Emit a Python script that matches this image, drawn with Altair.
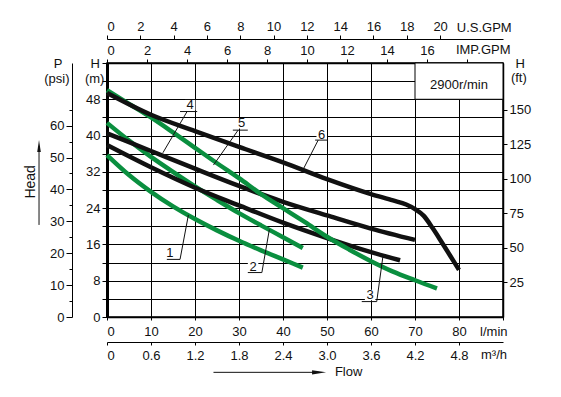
import altair as alt
import pandas as pd

GREEN = "#0a8f3f"
BLACK = "#111111"
FONT = "Liberation Sans"

FLOW_MAX = 90.0   # l/min
HEAD_MAX = 56.0   # m

# ---- pump curves: flow (l/min) vs head (m) ----
c1_flow = [0, 5, 10, 15, 20, 25, 30, 35, 40, 44.5]
c1_head = [35.7, 31.3, 27.6, 24.4, 21.6, 19.1, 16.8, 14.7, 12.7, 10.9]
c2_flow = [0, 5, 10, 15, 20, 25, 30, 35, 40, 44.5]
c2_head = [42.8, 38.9, 35.3, 32.0, 28.8, 25.8, 22.9, 20.2, 17.6, 15.2]
c3_flow = [0, 10, 20, 30, 40, 50, 60, 66.6]
c3_head = [37.9, 33.0, 28.5, 24.6, 20.8, 17.4, 14.3, 12.5]
c4_flow = [0, 10, 20, 30, 40, 50, 60, 70]
c4_head = [40.5, 36.6, 32.7, 28.9, 25.4, 22.4, 19.5, 17.0]
c5_flow = [0, 5, 10, 15, 20, 25, 30, 35, 40, 45, 50, 55, 60, 65, 70, 75]
c5_head = [50.0, 47.0, 44.0, 40.7, 37.3, 33.9, 30.6, 27.1, 24.0, 20.9, 17.7, 14.9, 12.3, 10.0, 8.1, 6.3]
c6_flow = [0, 10, 20, 30, 40, 50, 60, 65, 68, 70, 72, 74, 76, 78, 80]
c6_head = [49.4, 44.6, 41.0, 37.5, 34.1, 30.4, 27.1, 25.7, 24.8, 23.8, 22.3, 19.6, 16.6, 13.5, 10.4]

curve_ids = ["1", "2", "3", "4", "5", "6"]
curve_colors = [GREEN, GREEN, BLACK, BLACK, GREEN, BLACK]

# ---- curve number labels (data units) ----
lab_x = [14.3, 33.2, 59.8, 18.9, 30.6, 48.8]
lab_y = [14.1, 11.1, 4.85, 46.7, 42.7, 40.1]
und_x1 = [13.6, 32.0, 57.9, 16.6, 28.6, 47.3]
und_x2 = [16.6, 35.2, 61.3, 20.5, 32.0, 50.2]
und_y = [12.7, 9.8, 3.4, 45.3, 41.2, 39.0]
lead_x1 = [16.6, 35.2, 61.3, 18.2, 29.8, 48.0]
lead_x2 = [18.5, 36.9, 62.7, 12.7, 24.2, 44.3]
lead_y2 = [22.5, 19.3, 13.3, 36.2, 33.5, 32.0]

# ---- speed box ----
speed_text = "2900r/min"
box_x = [70, 90]
box_y = [48, 56]

# ---- axis tick values ----
lmin_ticks = list(range(0, 91, 10))
m_ticks = list(range(0, 57, 4))
m3h_ticks = [0, 0.6, 1.2, 1.8, 2.4, 3.0, 3.6, 4.2, 4.8]
usgpm_ticks = list(range(0, 21, 2))
impgpm_ticks = list(range(0, 19, 2))
psi_ticks = [0, 10, 20, 30, 40, 50, 60]
psi_minor = [5, 15, 25, 35, 45, 55, 65]
ft_ticks = [25, 50, 75, 100, 125, 150]

# ---- annotation texts (data units of the main scales) ----
center_texts = ["P", "(psi)", "H", "(m)", "H", "(ft)"]
center_x = [-11.1, -11.4, -2.7, -2.8, 93.9, 93.6]
center_y = [55.8, 52.5, 55.8, 52.5, 55.8, 52.7]
left_texts = ["U.S.GPM", "IMP.GPM", "l/min", "m\u00b3/h", "Flow"]
left_x = [79.5, 79.3, 84.8, 85.0, 51.8]
left_y = [63.7, 58.9, -3.3, -8.4, -12.2]
head_text = "Head"
head_x, head_y = -17.3, 29.8
head_arrow_x, head_arrow_y = [-15.45, -15.45], [20.3, 37.7]
flow_arrow_x, flow_arrow_y = [24.2, 48.2], [-12.2, -12.2]

# unit conversions for the secondary axes
M3H_MAX = FLOW_MAX * 0.06
USGPM_MAX = FLOW_MAX / 3.785411784
IMPGPM_MAX = FLOW_MAX / 4.54609
PSI_MAX = HEAD_MAX / 0.70307
FT_MAX = HEAD_MAX / 0.3048

# ---------------- build data ----------------
rows = []
for cid, fl, hd in zip(curve_ids,
                       [c1_flow, c2_flow, c3_flow, c4_flow, c5_flow, c6_flow],
                       [c1_head, c2_head, c3_head, c4_head, c5_head, c6_head]):
    for f, h in zip(fl, hd):
        rows.append({"curve": cid, "x": f, "y": h})
curve_df = pd.DataFrame(rows)

lab_df = pd.DataFrame({"t": curve_ids, "x": lab_x, "y": lab_y})
seg_df = pd.DataFrame({
    "x": und_x1 + lead_x1,
    "x2": und_x2 + lead_x2,
    "y": und_y + und_y,
    "y2": und_y + lead_y2,
})
box_df = pd.DataFrame({"x": [box_x[0]], "x2": [box_x[1]], "y": [box_y[0]], "y2": [box_y[1]],
                       "t": [speed_text], "xc": [sum(box_x) / 2], "yc": [sum(box_y) / 2 - 0.9]})
ctext_df = pd.DataFrame({"t": center_texts, "x": center_x, "y": center_y})
ltext_df = pd.DataFrame({"t": left_texts, "x": left_x, "y": left_y})
head_df = pd.DataFrame({"t": [head_text], "x": [head_x], "y": [head_y]})
arrow_df = pd.DataFrame({
    "x": [head_arrow_x[0], flow_arrow_x[0]],
    "x2": [head_arrow_x[1], flow_arrow_x[1]],
    "y": [head_arrow_y[0], flow_arrow_y[0]],
    "y2": [head_arrow_y[1], flow_arrow_y[1]],
})
headtip_df = pd.DataFrame({"x": [head_arrow_x[1]], "y": [head_arrow_y[1]]})
flowtip_df = pd.DataFrame({"x": [flow_arrow_x[1]], "y": [flow_arrow_y[1]]})

# ---------------- main scales / axes ----------------
xs = alt.Scale(domain=[0, FLOW_MAX], nice=False, zero=False)
ys = alt.Scale(domain=[0, HEAD_MAX], nice=False, zero=False)

x_axis = alt.Axis(values=lmin_ticks, grid=True, gridColor="black", gridWidth=1, gridOpacity=1,
                  domainColor="black", domainWidth=1.5, tickColor="black", tickSize=3,
                  labelExpr="datum.value <= 80 ? datum.label : ''", labelPadding=5, title=None)
y_axis = alt.Axis(values=m_ticks, grid=True, gridColor="black", gridWidth=1, gridOpacity=1,
                  domainColor="black", domainWidth=3, tickColor="black", tickSize=5,
                  labelExpr="(datum.value % 8 == 0 && datum.value <= 48) ? datum.label : ''",
                  labelPadding=2, title=None)

X = alt.X("x:Q", scale=xs, axis=x_axis)
Y = alt.Y("y:Q", scale=ys, axis=y_axis)

curves = alt.Chart(curve_df).mark_line(strokeWidth=4.5, interpolate="monotone").encode(
    x=X, y=Y,
    color=alt.Color("curve:N", scale=alt.Scale(domain=curve_ids, range=curve_colors), legend=None),
    detail="curve:N",
)

box = alt.Chart(box_df).mark_rect(fill="white", stroke="black", strokeWidth=1).encode(
    x=X, x2="x2:Q", y=Y, y2="y2:Q")
box_txt = alt.Chart(box_df).mark_text(font=FONT, fontSize=13, color=BLACK).encode(
    x=alt.X("xc:Q", scale=xs, axis=x_axis), y=alt.Y("yc:Q", scale=ys, axis=y_axis), text="t:N")

lab_bg = alt.Chart(lab_df).mark_square(color="white", opacity=1, size=110).encode(x=X, y=Y)
segs = alt.Chart(seg_df).mark_rule(color=BLACK, strokeWidth=1).encode(x=X, x2="x2:Q", y=Y, y2="y2:Q")
lab_txt = alt.Chart(lab_df).mark_text(font=FONT, fontSize=13, color=BLACK, baseline="middle").encode(
    x=X, y=Y, text="t:N")

ctext = alt.Chart(ctext_df).mark_text(font=FONT, fontSize=13, color=BLACK, baseline="middle").encode(
    x=X, y=Y, text="t:N")
ltext = alt.Chart(ltext_df).mark_text(font=FONT, fontSize=13, color=BLACK, align="left",
                                      baseline="middle").encode(x=X, y=Y, text="t:N")
htext = alt.Chart(head_df).mark_text(font=FONT, fontSize=14, color=BLACK, angle=270,
                                     baseline="middle").encode(x=X, y=Y, text="t:N")
arrows = alt.Chart(arrow_df).mark_rule(color=BLACK, strokeWidth=1).encode(x=X, x2="x2:Q", y=Y, y2="y2:Q")
headtip = alt.Chart(headtip_df).mark_point(shape="M-0.3,1L0,-1L0.3,1Z", filled=True, size=144,
                                           color=BLACK, opacity=1).encode(x=X, y=Y)
flowtip = alt.Chart(flowtip_df).mark_point(shape="M-1,-0.3L1,0L-1,0.3Z", filled=True, size=196,
                                           color=BLACK, opacity=1).encode(x=X, y=Y)

main = alt.layer(curves, box, box_txt, lab_bg, segs, lab_txt, ctext, ltext, htext, arrows,
                 headtip, flowtip)

# ---------------- secondary axes ----------------
def xaxis_layer(dmax, axis):
    df = pd.DataFrame({"v": [0, dmax]})
    return alt.Chart(df).mark_point(opacity=0).encode(
        x=alt.X("v:Q", scale=alt.Scale(domain=[0, dmax], nice=False, zero=False), axis=axis))

def yaxis_layer(dmax, axis):
    df = pd.DataFrame({"v": [0, dmax]})
    return alt.Chart(df).mark_point(opacity=0).encode(
        y=alt.Y("v:Q", scale=alt.Scale(domain=[0, dmax], nice=False, zero=False), axis=axis))

m3h_layer = xaxis_layer(M3H_MAX, alt.Axis(
    orient="bottom", offset=25, values=m3h_ticks, grid=False, domainColor="black", domainWidth=1,
    tickColor="black", tickSize=3, labelPadding=4, title=None,
    labelExpr="datum.value == 0 ? '0' : format(datum.value, '.1f')"))
us_layer = xaxis_layer(USGPM_MAX, alt.Axis(
    orient="top", offset=24, values=usgpm_ticks, grid=False, domainColor="black", domainWidth=1,
    tickColor="black", tickSize=4, labelPadding=2, title=None))
imp_layer = xaxis_layer(IMPGPM_MAX, alt.Axis(
    orient="top", offset=0, values=impgpm_ticks, grid=False, domainColor="black", domainWidth=1.5,
    tickColor="black", tickSize=4, labelPadding=2, title=None,
    labelExpr="datum.value < 18 ? datum.label : ''"))
psi_layer = yaxis_layer(PSI_MAX, alt.Axis(
    orient="left", offset=35, values=psi_ticks, grid=False, domainColor="black", domainWidth=1,
    tickColor="black", tickSize=6, labelPadding=2, title=None))
psi_minor_layer = yaxis_layer(PSI_MAX, alt.Axis(
    orient="left", offset=35, values=psi_minor, grid=False, domain=False, labels=False,
    tickColor="black", tickSize=3, title=None))
ft_layer = yaxis_layer(FT_MAX, alt.Axis(
    orient="right", offset=0, values=ft_ticks, grid=False, domainColor="black", domainWidth=1.5,
    tickColor="black", tickSize=4, labelPadding=2, title=None))

chart = alt.layer(
    main, m3h_layer, us_layer, imp_layer, psi_layer, psi_minor_layer, ft_layer
).resolve_scale(
    x="independent", y="independent"
).properties(
    width=396, height=254,
    autosize=alt.AutoSizeParams(type="none"),
    padding={"left": 99, "top": 55, "right": 50, "bottom": 72},
    background="white",
).configure_view(
    stroke="black", strokeWidth=1.5
).configure_axis(
    labelFont=FONT, labelFontSize=13, labelColor=BLACK
)

chart.save("out.html", embed_options={"renderer": "svg", "actions": False})
